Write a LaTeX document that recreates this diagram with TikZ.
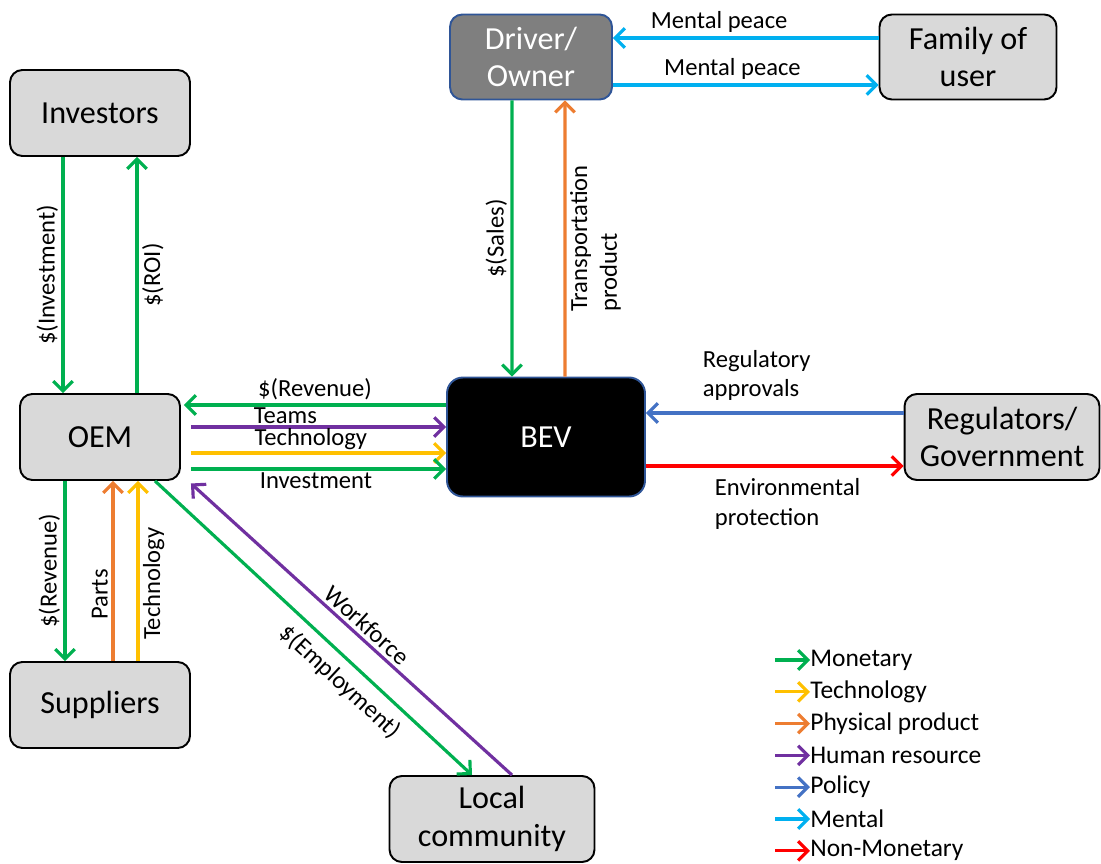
\documentclass[tikz,border=0pt]{standalone}
\usepackage{fontspec}
\setmainfont{Carlito}
\usepackage{xcolor}
\usetikzlibrary{arrows.meta, positioning}
\definecolor{boxgray}{HTML}{D9D9D9}
\definecolor{drvgray}{HTML}{7F7F7F}
\definecolor{edgeblue}{HTML}{2F5597}
\definecolor{cMoney}{HTML}{00B050}
\definecolor{cTech}{HTML}{FFC000}
\definecolor{cProduct}{HTML}{ED7D31}
\definecolor{cPeople}{HTML}{7030A0}
\definecolor{cPolicy}{HTML}{4472C4}
\definecolor{cMental}{HTML}{00B0F0}
\definecolor{cNonMoney}{HTML}{FF0000}

\begin{document}
\begin{tikzpicture}[
    x=0.02cm, y=-0.02cm,
    box/.style={rectangle, rounded corners=7pt, minimum width=3.6cm, minimum height=1.72cm, align=center, draw=black, line width=1.1pt, fill=boxgray, font=\fontsize{18.3}{21.5}\selectfont},
    bevbox/.style={box, rounded corners=9pt, minimum width=3.96cm, minimum height=2.38cm, fill=black, draw=edgeblue, text=white},
    drvbox/.style={box, minimum width=3.24cm, minimum height=1.7cm, fill=drvgray, draw=edgeblue, text=white},
    flow/.style={-{Straight Barb[length=5.5pt, width=11pt]}, line width=1.8pt},
    money/.style={flow, draw=cMoney},
    tech/.style={flow, draw=cTech},
    product/.style={flow, draw=cProduct},
    people/.style={flow, draw=cPeople},
    policy/.style={flow, draw=cPolicy},
    mental/.style={flow, draw=cMental},
    nonmoney/.style={flow, draw=cNonMoney},
    lbl/.style={font=\fontsize{14}{17}\selectfont, inner sep=2pt},
    legend/.style={anchor=west, inner sep=0pt, font=\fontsize{14.5}{17}\selectfont}
]
\useasboundingbox (0,0) rectangle (1101,864);

% Nodes
\node (inv) [box] at (100,113) {Investors};
\node (oem) [box, minimum width=3.2cm] at (100,437) {OEM};
\node (sup) [box] at (100,705) {Suppliers};
\node (loc) [box, minimum width=4.1cm] at (492,819) {Local\\community};
\node (bev) [bevbox] at (546,437) {BEV};
\node (drv) [drvbox] at (531,57) {Driver/\\Owner};
\node (fam) [box, minimum width=3.54cm, minimum height=1.7cm] at (968,57) {Family of\\user};
\node (reg) [box, minimum width=3.9cm] at (1002,437) {Regulators/\\Government};

% Arrows
\draw [money] ([xshift=-0.74cm]inv.south) -- node[lbl, above, rotate=90] {\$(Investment)} ([xshift=-0.74cm]oem.north);
\draw [money] ([xshift=0.74cm]oem.north) -- node[lbl, below, rotate=90] {\$(ROI)} ([xshift=0.74cm]inv.south);

\draw [money] ([yshift=0.64cm]bev.west) -- node[lbl, above] {\$(Revenue)} ([xshift=0.06cm, yshift=0.64cm]oem.east);
\draw [people] ([xshift=0.2cm, yshift=0.2cm]oem.east) -- node[lbl, above, inner sep=1pt, pos=0.37] {Teams} ([yshift=0.2cm]bev.west);
\draw [tech] ([xshift=0.2cm, yshift=-0.32cm]oem.east) -- node[lbl, above, inner sep=1pt, pos=0.47] {Technology} ([yshift=-0.32cm]bev.west);
\draw [money] ([xshift=0.2cm, yshift=-0.64cm]oem.east) -- node[lbl, below, inner sep=1pt, pos=0.49] {Investment} ([yshift=-0.64cm]bev.west);

\draw [money] ([xshift=-0.38cm]drv.south) -- node[lbl, above, rotate=90] {\$(Sales)} ([xshift=-0.68cm]bev.north);
\draw [product] ([xshift=0.38cm]bev.north) -- node[lbl, below, rotate=90, align=left] {Transportation\\product} ([xshift=0.68cm]drv.south);

\draw [mental] ([yshift=0.38cm]fam.west) -- node[lbl, above, pos=0.6] {Mental peace} ([yshift=0.38cm]drv.east);
\draw [mental] ([yshift=-0.56cm]drv.east) -- node[lbl, above, pos=0.45] {Mental peace} ([yshift=-0.56cm]fam.west);

\draw [policy] ([yshift=0.48cm]reg.west) -- node[lbl, above=4pt, pos=0.57, align=left] {Regulatory\\approvals} ([yshift=0.48cm]bev.east);
\draw [nonmoney] ([yshift=-0.58cm]bev.east) -- node[lbl, below=4pt, pos=0.55, align=left] {Environmental\\protection} ([yshift=-0.58cm]reg.west);

\draw [money] ([xshift=-0.7cm]oem.south) -- node[lbl, above, rotate=90] {\$(Revenue)} ([xshift=-0.7cm]sup.north);
\draw [product] ([xshift=0.26cm]sup.north) -- node[lbl, above, rotate=90, pos=0.37] {Parts} ([xshift=0.26cm]oem.south);
\draw [tech] ([xshift=0.76cm]sup.north) -- node[lbl, below, rotate=90, pos=0.43] {Technology} ([xshift=0.76cm]oem.south);

\draw [money] ([xshift=1.1cm]oem.south) -- node[lbl, below=3pt, sloped, pos=0.63] {\$(Employment)} ([xshift=-0.4cm]loc.north);
\draw [people] ([xshift=0.4cm]loc.north) -- node[lbl, above, sloped, pos=0.48] {Workforce} ([xshift=0.2cm, yshift=-0.05cm]oem.south east);

% Legend
\foreach \sty/\txt [count=\i] in {money/Monetary, tech/Technology, product/Physical product, people/Human resource, policy/Policy, mental/Mental, nonmoney/Non-Monetary} {
    \node (key\i) [legend] at (810, 628.2+31.8*\i) {\txt};
    \draw [\sty] ([xshift=-0.7cm]key\i.west) -- (key\i.west);
}

\end{tikzpicture}
\end{document}
